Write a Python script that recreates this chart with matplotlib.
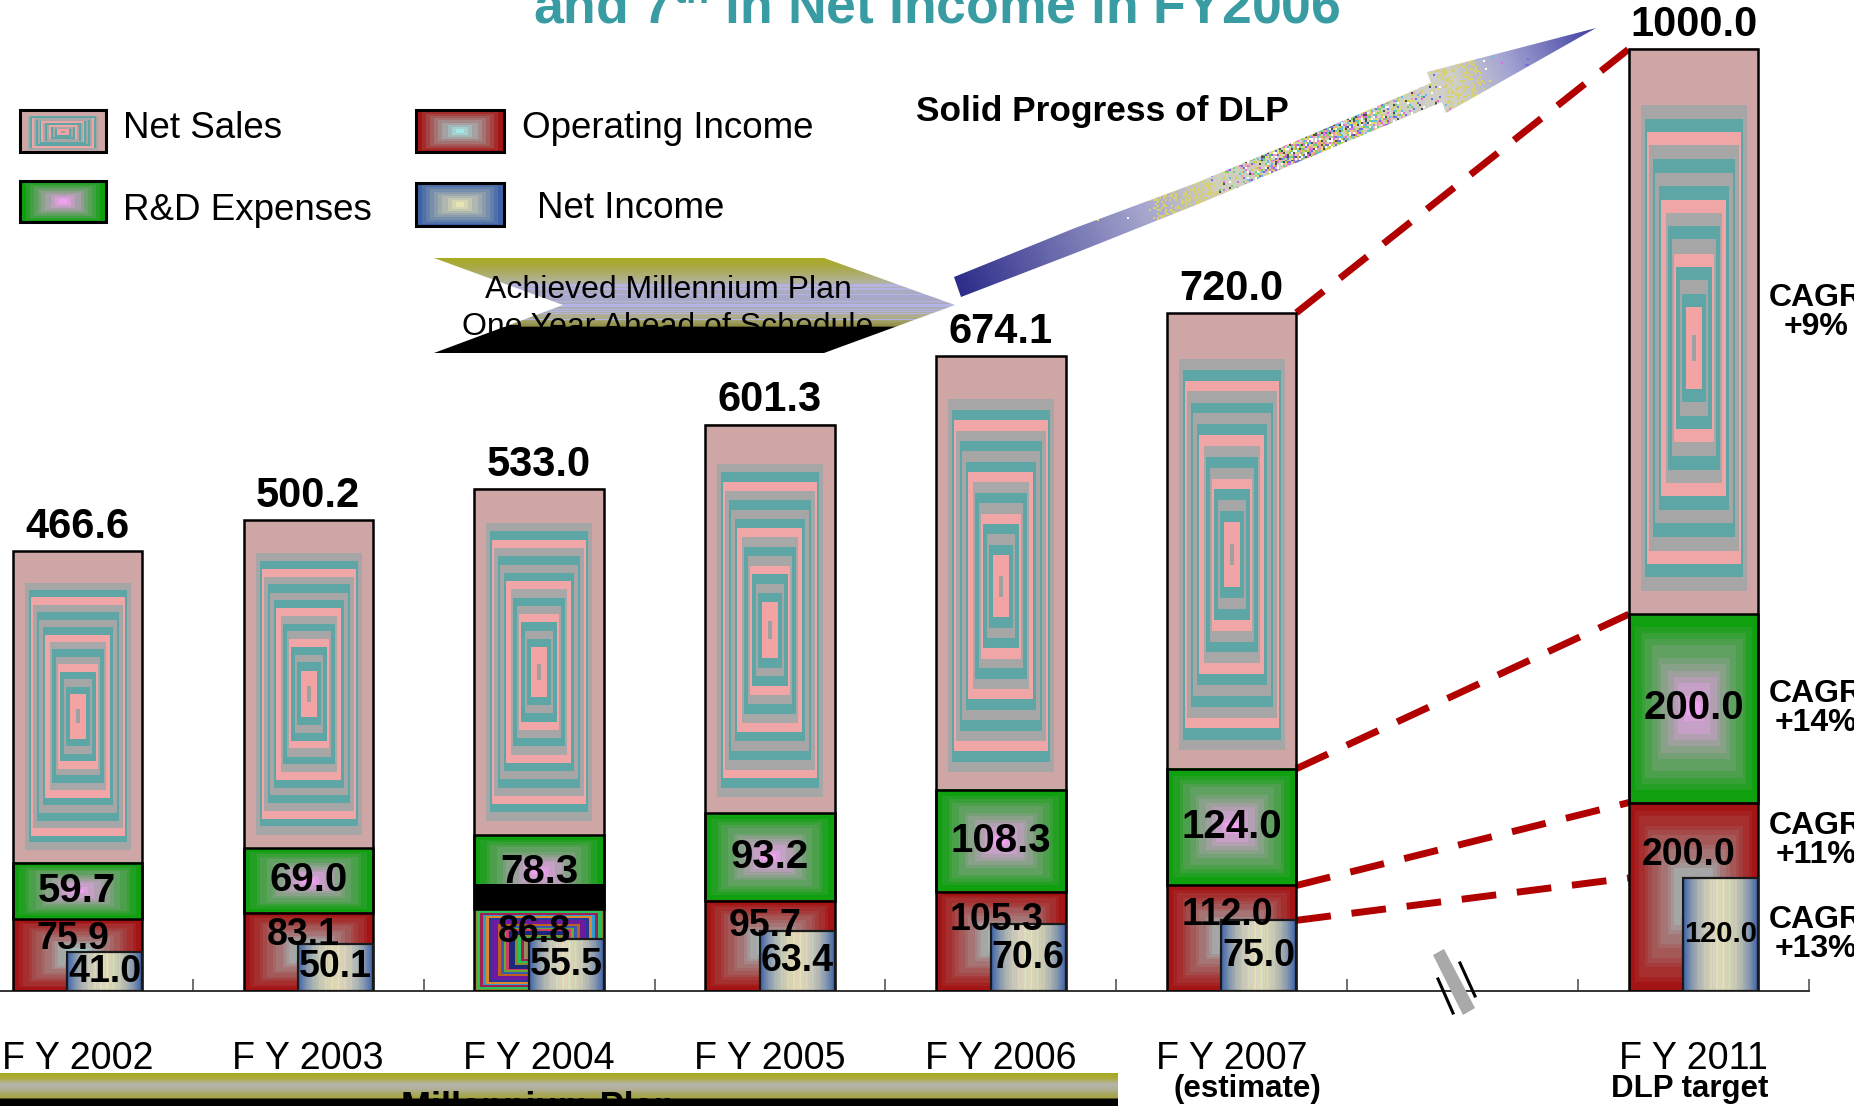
import numpy as np
import matplotlib
matplotlib.use("Agg")
import matplotlib.pyplot as plt
from matplotlib import font_manager
from matplotlib.colors import to_rgb
from matplotlib.patches import Polygon, Rectangle

# values (billion yen)
years = ["F Y 2002", "F Y 2003", "F Y 2004", "F Y 2005", "F Y 2006", "F Y 2007", "F Y 2011"]
year_notes = ["", "", "", "", "", "(estimate)", "DLP target"]
net_sales = [466.6, 500.2, 533.0, 601.3, 674.1, 720.0, 1000.0]
rd_expenses = [59.7, 69.0, 78.3, 93.2, 108.3, 124.0, 200.0]
op_income = [75.9, 83.1, 86.8, 95.7, 105.3, 112.0, 200.0]
net_income = [41.0, 50.1, 55.5, 63.4, 70.6, 75.0, 120.0]
cagr_labels = ["CAGR\n+9%", "CAGR\n+14%", "CAGR\n+11%", "CAGR\n+13%"]

# FY2011 sits one slot further right, after the axis break
xpos = [0, 1, 2, 3, 4, 5, 7]
W = 0.56
NI_FRAC = 0.58

names = {f.name for f in font_manager.fontManager.ttflist}
HAS_NARROW = "Liberation Sans Narrow" in names


def narrow(size):
    if HAS_NARROW:
        return dict(family=["Liberation Sans Narrow", "DejaVu Sans"], fontsize=size)
    return dict(family=["Liberation Sans", "DejaVu Sans"], fontsize=size * 0.82)


plt.rcParams["font.family"] = ["Liberation Sans", "DejaVu Sans"]


# ---- fill textures ----
def cheb(ny, nx, sx=1.0, sy=1.0, oy=0.0):
    u = np.linspace(-1, 1, nx)[None, :] / sx
    v = (np.linspace(-1, 1, ny)[:, None] - oy) / sy
    return np.maximum(np.abs(u), np.abs(v))


def box_ramp(ny, nx, edge, center, steps=12, gamma=1.0):
    d = cheb(ny, nx)
    q = (np.floor(np.clip(d, 0, 0.999) * steps) / (steps - 1)) ** gamma
    e, c = np.array(to_rgb(edge)), np.array(to_rgb(center))
    return c + (e - c) * q[..., None]


SALES_BANDS = np.array([to_rgb(c) for c in [
    "#a0a0a0", "#f2a4a4", "#f2a4a4", "#5ea6a6", "#a6a6a6", "#5ea6a6", "#f0a6a6",
    "#a6a6a6", "#5ea6a6", "#a8a8a8", "#f0a6a6", "#5ea6a6", "#a6a6a6", "#5ea6a6",
    "#a6a6a6", "#f0a6a6", "#5ea6a6", "#a6a6a6"]])


def sales_tex(ny, nx=64):
    d = cheb(ny, nx, sx=0.82, sy=0.86, oy=0.06)
    img = np.empty((ny, nx, 3))
    img[:] = to_rgb("#cea6a6")
    inside = d < 1
    band = np.floor(d * len(SALES_BANDS)).astype(int)
    img[inside] = SALES_BANDS[band[inside]]
    return img


NI_STRIPES = np.array([to_rgb(c) for c in ["#e8b8c8", "#c4dcb4", "#efeac0", "#bcc4e0", "#e6d2a8"]])


def income_tex(ny=4, nx=60):
    t = np.abs(np.linspace(-1, 1, nx)) ** 1.6
    e, c = np.array(to_rgb("#3d62a8")), np.array(to_rgb("#e4e0b2"))
    row = c + (e - c) * t[:, None]
    stripes = NI_STRIPES[np.arange(nx) % len(NI_STRIPES)]
    row = row + (stripes - row) * (0.45 * (1 - t))[:, None]
    return np.repeat(row[None, :, :], ny, axis=0)


MULTI = np.array([to_rgb(c) for c in [
    "#6b1c9c", "#27379c", "#dc8a2c", "#2a9ed0", "#a41d50", "#28c25c",
    "#8a8a2c", "#1b2a78", "#cf3a6a", "#62ab34", "#3a5ab0", "#c06020"]])


def multi_tex(ny=44, nx=44):
    d = cheb(ny, nx)
    band = np.floor(d * 18).astype(int) % len(MULTI)
    img = MULTI[band]
    img[d < 0.25] = to_rgb("#9a8a60")
    return img


def hash2(a, b, s=0.0):
    return np.modf(np.abs(np.sin(a * 12.9898 + b * 78.233 + s) * 43758.5453))[0]


def ramp_rows(ys, stops_y, stops_c):
    cols = [to_rgb(c) for c in stops_c]
    return np.stack([np.interp(ys, stops_y, [c[k] for c in cols]) for k in range(3)], -1)


op_tex = box_ramp(40, 40, "#a51414", "#a6e8e8", steps=14, gamma=0.8)
rd_tex = box_ramp(30, 40, "#0fa00f", "#f0a0f0", steps=12)
ni_tex = income_tex()

# ---- main chart ----
fig = plt.figure(figsize=(18.54, 11.06), dpi=100)
ax = fig.add_axes([0, 0.104, 0.9757, 0.896])
ax.set_autoscale_on(False)
ax.set_xlim(-0.335, 7.5)
ax.set_ylim(0, 1052)

for i, x in enumerate(xpos):
    ns, rd, op, ni = net_sales[i], rd_expenses[i], op_income[i], net_income[i]
    left, right = x - W / 2, x + W / 2
    top_rd = op + rd

    ax.imshow(sales_tex(max(30, int(ns - top_rd))), extent=(left, right, top_rd, ns),
              aspect="auto", interpolation="nearest", zorder=1)
    ax.imshow(rd_tex, extent=(left, right, op, top_rd), aspect="auto",
              interpolation="nearest", zorder=2)
    otex = multi_tex() if years[i] == "F Y 2004" else op_tex
    ax.imshow(otex, extent=(left, right, 0, op), aspect="auto",
              interpolation="nearest", zorder=2)
    if years[i] == "F Y 2004":
        # dark band that shows on the original slide above this segment
        ax.bar(x, 27, W, bottom=op, color="black", zorder=2.5)
    ax.bar(x, ns, W, fill=False, edgecolor="black", linewidth=1.8, zorder=5)
    ax.bar(x, rd, W, bottom=op, fill=False, edgecolor="black", linewidth=1.8, zorder=5)

    nl = right - NI_FRAC * W
    ax.imshow(ni_tex, extent=(nl, right, 0, ni), aspect="auto",
              interpolation="bilinear", zorder=3)
    ax.bar(nl, ni, NI_FRAC * W, align="edge", fill=False, edgecolor="#1a1a1a",
           linewidth=1.6, zorder=6)

    ax.text(x, ns + 14, f"{ns:.1f}", ha="center", va="baseline", fontsize=30,
            fontweight="bold", zorder=7)
    ax.text(x, op + rd / 2, f"{rd:.1f}", ha="center", va="center", fontsize=29,
            fontweight="bold", zorder=7)
    ax.text(x - 0.02, op * 0.72, f"{op:.1f}", ha="center", va="center", fontsize=27,
            fontweight="bold", zorder=7)
    ax.text(nl + NI_FRAC * W / 2, ni / 2, f"{ni:.1f}", ha="center", va="center",
            fontsize=27 if ni < 100 else 21, fontweight="bold", zorder=7)

# dashed growth lines FY2007 -> FY2011
x_a, x_b = xpos[-2] + W / 2, xpos[-1] - W / 2
for series in (net_sales, [o + r for o, r in zip(op_income, rd_expenses)], op_income, net_income):
    ax.plot([x_a, x_b], [series[-2], series[-1]], color="#b00000", linewidth=5,
            dashes=(5, 3), clip_on=False, zorder=4)

# CAGR notes to the right of the FY2011 bar
cagr_y = [(op_income[-1] + rd_expenses[-1] + net_sales[-1]) / 2 + 20,
          op_income[-1] + rd_expenses[-1] / 2,
          op_income[-1] * 0.8,
          net_income[-1] / 2]
for lab, y in zip(cagr_labels, cagr_y):
    ax.text(7.53, y, lab, ha="center", va="center", fontsize=23, fontweight="bold",
            linespacing=0.95, zorder=7)

# axis: boundary ticks pointing up, year labels centred under bars
for s in ("left", "top", "right"):
    ax.spines[s].set_visible(False)
ax.spines["bottom"].set_linewidth(1.4)
ax.spines["bottom"].set_color("#333333")
ax.set_yticks([])
ax.set_xticks(np.arange(0.5, 8, 1.0))
ax.tick_params(axis="x", which="major", direction="in", length=9, width=1.2,
               color="#555555", labelbottom=False)
ax.set_xticks(xpos, labels=years, minor=True)
ax.tick_params(axis="x", which="minor", length=0, pad=36)
for lab in ax.get_xticklabels(minor=True):
    lab.set_fontfamily(narrow(33)["family"])
    lab.set_fontsize(narrow(33)["fontsize"])
note_dx = {"(estimate)": 0.066, "DLP target": -0.015}
for x, note in zip(xpos, year_notes):
    if note:
        ax.text(x + note_dx[note], -104, note, ha="center", va="center", fontsize=22.5,
                fontweight="bold", clip_on=False)

# ---- decorations drawn in figure pixel space ----
ov = fig.add_axes([0, 0, 1, 1], zorder=5)
ov.set_autoscale_on(False)
ov.set_xlim(0, 1854)
ov.set_ylim(1106, 0)
ov.axis("off")
ov.patch.set_visible(False)

ov.text(937, 24, r"and 7$^{\mathregular{th}}$ in Net Income in FY2006", ha="center",
        va="baseline", color="#3a9ca3", fontweight="bold", **narrow(47))

# legend
legend_items = [
    ("Net Sales", sales_tex(22, 44), (20, 106, 110, 152), (123, 129)),
    ("Operating Income", box_ramp(20, 44, "#a51414", "#a6e8e8", 10), (416, 504, 110, 152), (522, 129)),
    ("R&D Expenses", box_ramp(20, 44, "#0fa00f", "#f0a0f0", 10), (20, 106, 181, 222), (123, 210)),
    ("Net Income", box_ramp(20, 44, "#3d62a8", "#e8e4b4", 10), (416, 504, 183, 226), (537, 208)),
]
for label, tex, (x0, x1, y0, y1), (tx, ty) in legend_items:
    ov.imshow(tex, extent=(x0, x1, y1, y0), aspect="auto", interpolation="nearest", zorder=3)
    ov.add_patch(Rectangle((x0, y0), x1 - x0, y1 - y0, fill=False, edgecolor="black",
                           linewidth=2.2, zorder=4))
    ov.text(tx, ty, label, ha="left", va="center", fontsize=26.5, zorder=4)

# chevron "Achieved Millennium Plan"
chev = [(434, 258), (824, 258), (955, 305), (824, 353), (434, 353), (563, 305)]
cy = np.arange(255, 357, 1.0) + 0.5
rows = ramp_rows(cy, [258, 268, 282, 296, 308, 318, 326, 327.5, 357],
                 ["#a9a922", "#aaa94a", "#b2b29c", "#a8a8cc", "#acacb8", "#aeac86",
                  "#8e8c40", "#000000", "#000000"])
stripe = (hash2(cy, 3.0) < 0.3) & (cy > 284) & (cy < 322)
rows[stripe] = to_rgb("#b4b4e4")
img = np.repeat(rows[:, None, :], 8, axis=1)
im = ov.imshow(img, extent=(430, 960, 357, 255), aspect="auto", interpolation="nearest", zorder=2)
cp = Polygon(chev, closed=True, facecolor="none", edgecolor="none")
ov.add_patch(cp)
im.set_clip_path(cp)
ov.text(668, 290, "Achieved Millennium Plan", ha="center", va="center", fontsize=23, zorder=3)
ov.text(668, 327, "One Year Ahead of Schedule", ha="center", va="center", fontsize=23, zorder=3)

# arrow "Solid Progress of DLP"
arrow = [(954, 277), (1075, 228), (1196, 183), (1315, 133), (1431, 83), (1427, 72),
         (1596, 28), (1446, 113), (1442, 102), (1320, 153), (1196, 205), (1078, 252), (961, 297)]
gx, gy = np.meshgrid(np.arange(945, 1605, 2) + 1.0, np.arange(20, 305, 2) + 1.0)
tail, tip = np.array([957.0, 287.0]), np.array([1596.0, 28.0])
dv = tip - tail
t = ((gx - tail[0]) * dv[0] + (gy - tail[1]) * dv[1]) / (dv @ dv)
stops_c = ["#2c2c8a", "#a9a9cf", "#cfcfbe", "#d0d0c8", "#a4a4d4", "#3e3ea2"]
cols = [to_rgb(c) for c in stops_c]
img = np.stack([np.interp(t, [0, 0.3, 0.4, 0.78, 0.86, 1.0], [c[k] for c in cols])
                for k in range(3)], -1)
wgt = np.exp(-((t - 0.57) / 0.14) ** 2)
h1, h2 = hash2(gx, gy), hash2(gx, gy, 1.7)
speck = h1 < 0.9 * wgt
pal = np.array([to_rgb(c) for c in ["#e070e0", "#70d070", "#e0e060", "#7070e0", "#60c0e0",
                                    "#f0a0a0", "#505050", "#ffffff", "#d0d040"]])
img[speck] = pal[(h2[speck] * len(pal)).astype(int) % len(pal)]
yel = (h1 < 0.35) & (((t > 0.3) & (t < 0.4)) | ((t > 0.76) & (t < 0.82)))
img[yel] = to_rgb("#d8d070")
im = ov.imshow(img, extent=(945, 1605, 305, 20), aspect="auto", interpolation="nearest", zorder=2)
ap = Polygon(arrow, closed=True, facecolor="none", edgecolor="none")
ov.add_patch(ap)
im.set_clip_path(ap)
ov.text(916, 111, "Solid Progress of DLP", ha="left", va="center", fontweight="bold",
        **narrow(31))

# axis break marker
ov.add_patch(Polygon([(1433, 955), (1444, 949), (1475, 1008), (1463, 1015)], closed=True,
                     facecolor="#a9a9a9", edgecolor="none", zorder=3))
ov.plot([1438, 1453], [979, 1013], color="black", linewidth=2.2, zorder=4)
ov.plot([1460, 1475], [963, 996], color="black", linewidth=2.2, zorder=4)

# "Millennium Plan" band along the bottom
by = np.arange(1073, 1106, 0.5) + 0.25
rows = ramp_rows(by, [1073, 1079, 1084, 1089, 1094, 1098.5, 1099, 1106],
                 ["#a8a81a", "#acac40", "#b4b4aa", "#b2b09c", "#a8a862", "#a4a440",
                  "#000000", "#000000"])
img = np.repeat(rows[:, None, :], 8, axis=1)
ov.imshow(img, extent=(0, 1118, 1106, 1073), aspect="auto", interpolation="nearest", zorder=2)
ov.text(538, 1118, "Millennium Plan", ha="center", va="baseline", fontsize=26,
        fontweight="bold", zorder=3)

fig.savefig("out.png", dpi=100)
